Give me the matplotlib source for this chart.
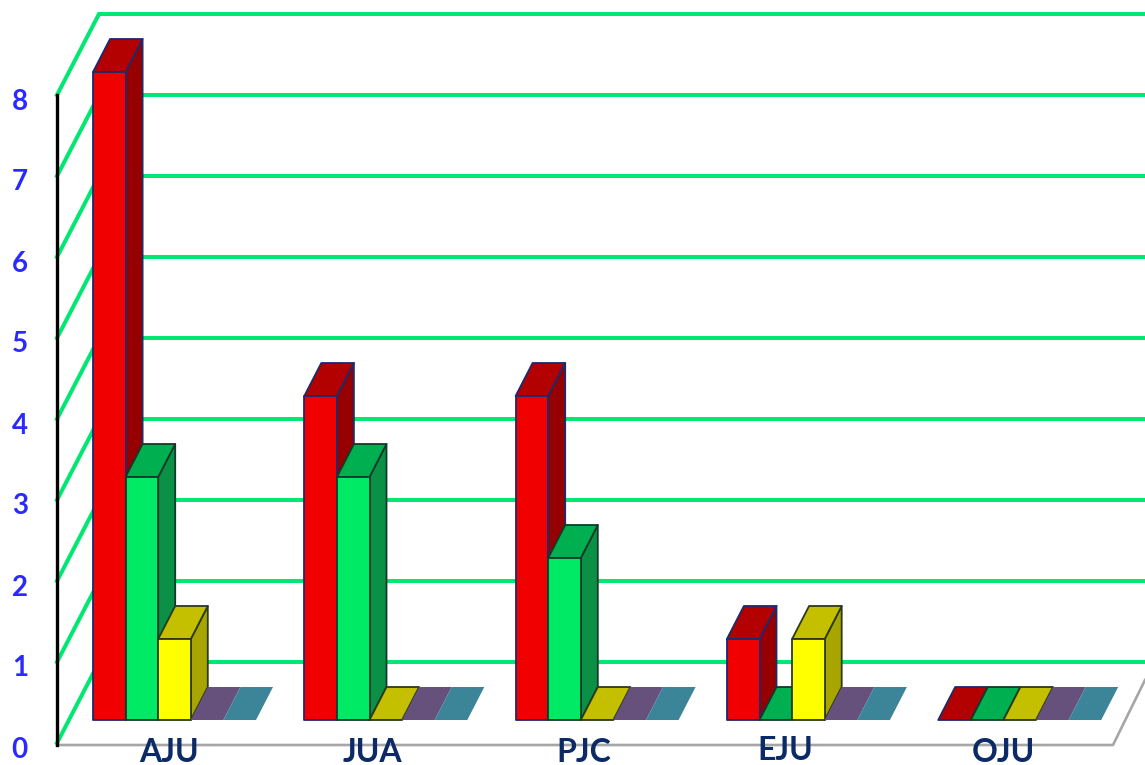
import matplotlib
matplotlib.use("Agg")
import matplotlib.pyplot as plt
from matplotlib.patches import Polygon
from matplotlib.transforms import ScaledTranslation

plt.rcParams['font.family'] = ['Lato', 'DejaVu Sans']

categories = ['AJU', 'JUA', 'PJC', 'EJU', 'OJU']
red_values = [8, 4, 4, 1, 0]
green_values = [3, 3, 2, 0, 0]
yellow_values = [1, 0, 0, 1, 0]
purple_values = [0, 0, 0, 0, 0]
teal_values = [0, 0, 0, 0, 0]
y_ticks = [0, 1, 2, 3, 4, 5, 6, 7, 8]

W, H = 1145, 765
PITCH = 211.3   # px per category
UNIT = 81.0     # px per value

fig = plt.figure(figsize=(W / 100, H / 100), dpi=100, facecolor='white')
ax = fig.add_axes([57 / W, (H - 743) / H, (W - 57) / W, 729 / H])
ax.set_xlim(-(93 - 57) / PITCH, (W - 93) / PITCH)
ax.set_ylim(0, 729 / UNIT)
ax.patch.set_visible(False)
for s in ax.spines.values():
    s.set_visible(False)

# style: (front, top, side, edge)
styles = [
    ('#f00000', '#b30000', '#960000', '#1c2a6e'),
    ('#00ea66', '#00b050', '#0a9146', '#123a2a'),
    ('#ffff00', '#c4c000', '#a8a400', '#2a3a1a'),
    ('#ffff00', '#66507c', '#66507c', None),
    ('#ffff00', '#3c8599', '#3c8599', None),
]
series = [red_values, green_values, yellow_values, purple_values, teal_values]

bar_w = 32.6 / PITCH
depth_x = 17 / PITCH
depth_y = 33 / UNIT
base = 23 / UNIT
wall_x = 42 / PITCH
wall_y = 1.0
x_left = ax.get_xlim()[0]
x_right = ax.get_xlim()[1]

# Back wall grid lines
for v in y_ticks:
    ax.plot([x_left, x_left + wall_x, x_right], [v, v + wall_y, v + wall_y],
            color='#00e872', lw=2.9, solid_joinstyle='miter', clip_on=False, zorder=1)

# Floor and value axis
ax.plot([x_left, 1113 / PITCH - 93 / PITCH, x_right], [-2 / UNIT, -2 / UNIT, 63 / UNIT],
        color='#a6a6a6', lw=1.9, clip_on=False, zorder=2)
ax.plot([x_left, x_left], [-2 / UNIT, 8], color='black', lw=2.4, clip_on=False, zorder=3)

# Bars
z = 4
for i in range(len(categories)):
    for j, vals in enumerate(series):
        front, top, side, edge = styles[j]
        v = vals[i]
        x0 = i + j * bar_w
        x1 = x0 + bar_w
        y0 = base
        y1 = base + v
        kw = dict(closed=True, linewidth=1.3 if edge else 0, edgecolor=edge or 'none',
                  joinstyle='round', zorder=z)
        if v > 0:
            ax.add_patch(Polygon([(x1, y0), (x1 + depth_x, y0 + depth_y),
                                  (x1 + depth_x, y1 + depth_y), (x1, y1)], facecolor=side, **kw))
        ax.add_patch(Polygon([(x0, y1), (x1, y1), (x1 + depth_x, y1 + depth_y),
                              (x0 + depth_x, y1 + depth_y)], facecolor=top, **kw))
        if v > 0:
            ax.add_patch(Polygon([(x0, y0), (x1, y0), (x1, y1), (x0, y1)], facecolor=front, **kw))
        z += 1

# Axis tick labels
ax.set_yticks(y_ticks)
ax.set_yticklabels([str(t) for t in y_ticks], fontsize=20, fontweight='bold', color='#2a2aff')
ax.tick_params(axis='y', length=0, pad=21)
shift = ScaledTranslation(0, -4 / 100, fig.dpi_scale_trans)
for lab in ax.get_yticklabels():
    lab.set_transform(lab.get_transform() + shift)
ax.set_xticks([])

label_shift = [76, 68, 68, 58, 65]
label_raise = [-9, -9, -9, -7, -9]
for i, c in enumerate(categories):
    ax.text(i + label_shift[i] / PITCH, label_raise[i] / UNIT, c, ha='center', va='center',
            fontsize=23, fontweight='bold', color='#0b2a66', zorder=50, clip_on=False)

fig.savefig('out.png', dpi=100)
